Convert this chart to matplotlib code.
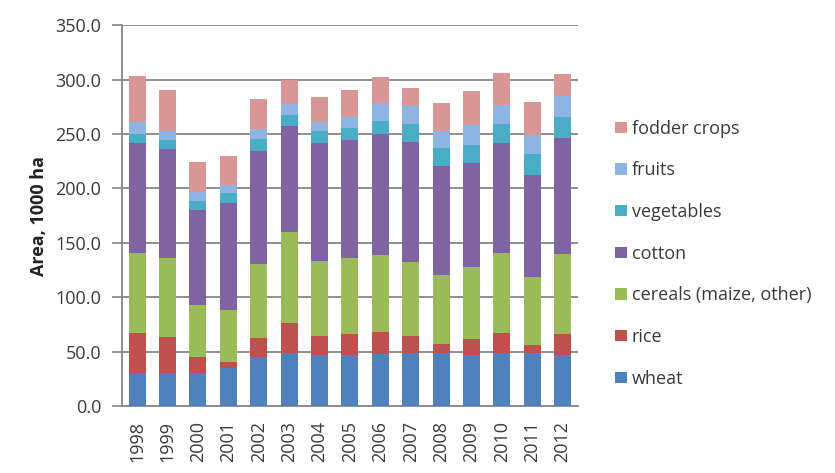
import matplotlib
matplotlib.use("Agg")
import matplotlib.pyplot as plt
import numpy as np

plt.rcParams['font.family'] = ['Open Sans', 'DejaVu Sans']

years = [str(y) for y in range(1998, 2013)]

# crop areas, 1000 ha
wheat      = [30.0, 30.0, 30.0, 34.6, 45.3, 49.0, 47.0, 47.0, 48.0, 48.4, 48.4, 47.0, 48.4, 49.0, 47.0]
rice       = [37.4, 33.7, 15.0,  6.0, 17.0, 27.6, 17.4, 19.3, 19.6, 16.0,  8.6, 14.4, 19.0,  7.0, 19.3]
cereals    = [73.0, 72.0, 47.5, 47.5, 68.3, 83.6, 69.0, 69.5, 71.4, 68.4, 63.4, 66.7, 73.0, 62.3, 73.2]
cotton     = [101.0, 100.3, 87.3, 98.7, 104.0, 97.0, 108.0, 108.8, 111.2, 109.6, 100.2, 95.6, 101.7, 94.0, 106.6]
vegetables = [9.0, 8.5, 8.6, 9.0, 11.3, 10.0, 11.6, 11.3, 12.0, 16.7, 16.2, 16.6, 17.0, 19.0, 19.3]
fruits     = [11.0, 8.5, 8.3, 7.0, 9.0, 10.5, 8.3, 10.2, 16.0, 16.3, 16.2, 18.4, 17.7, 17.7, 19.7]
fodder     = [42.0, 37.4, 28.0, 27.0, 27.6, 21.6, 23.0, 24.4, 24.0, 17.0, 25.8, 30.7, 29.7, 30.7, 20.0]

series = [
    ("wheat", wheat, "#4F81BD"),
    ("rice", rice, "#C0504D"),
    ("cereals (maize, other)", cereals, "#9BBB59"),
    ("cotton", cotton, "#8064A2"),
    ("vegetables", vegetables, "#4BACC6"),
    ("fruits", fruits, "#8EB4E3"),
    ("fodder crops", fodder, "#D99694"),
]

FS = 13
TXT = "#3a3a3a"

fig = plt.figure(figsize=(8.35, 4.73), dpi=100)
ax = fig.add_axes([0.146, 0.1416, 0.546, 0.805])

x = np.arange(len(years))
bottom = np.zeros(len(years))
handles = []
for name, vals, col in series:
    b = ax.bar(x, vals, width=0.56, bottom=bottom, color=col, label=name, zorder=3)
    handles.append(b)
    bottom += np.array(vals)

ax.set_xlim(-0.5, len(years) - 0.5)
ax.set_ylim(0, 350)
yt = np.arange(0, 351, 50)
ax.set_yticks(yt)
ax.set_yticklabels([f"{v:.1f}" for v in yt], fontsize=FS, color=TXT)
ax.set_xticks(x)
ax.set_xticklabels(years, rotation=90, fontsize=FS, color=TXT)
ax.tick_params(axis='x', length=0, pad=11)
ax.tick_params(axis='y', length=7, color="#868686", width=1.2, pad=8)

ax.yaxis.grid(True, color="#868686", linewidth=1.3, zorder=0)
ax.set_axisbelow(True)
for s in ("top", "right"):
    ax.spines[s].set_visible(False)
for s in ("left", "bottom"):
    ax.spines[s].set_color("#868686")
    ax.spines[s].set_linewidth(1.3)

ax.set_ylabel("Area, 1000 ha", fontsize=FS, fontweight="bold", color="#222222")
ax.yaxis.set_label_coords(-0.162, 0.5)

leg = ax.legend(handles[::-1], [s[0] for s in series][::-1],
                loc="center left", bbox_to_anchor=(1.081, 0.40), frameon=False,
                fontsize=FS, handlelength=0.7, handleheight=0.6,
                handletextpad=0.25, labelspacing=1.31, borderpad=0, borderaxespad=0)
for t in leg.get_texts():
    t.set_color(TXT)

fig.savefig("out.png", dpi=100)
